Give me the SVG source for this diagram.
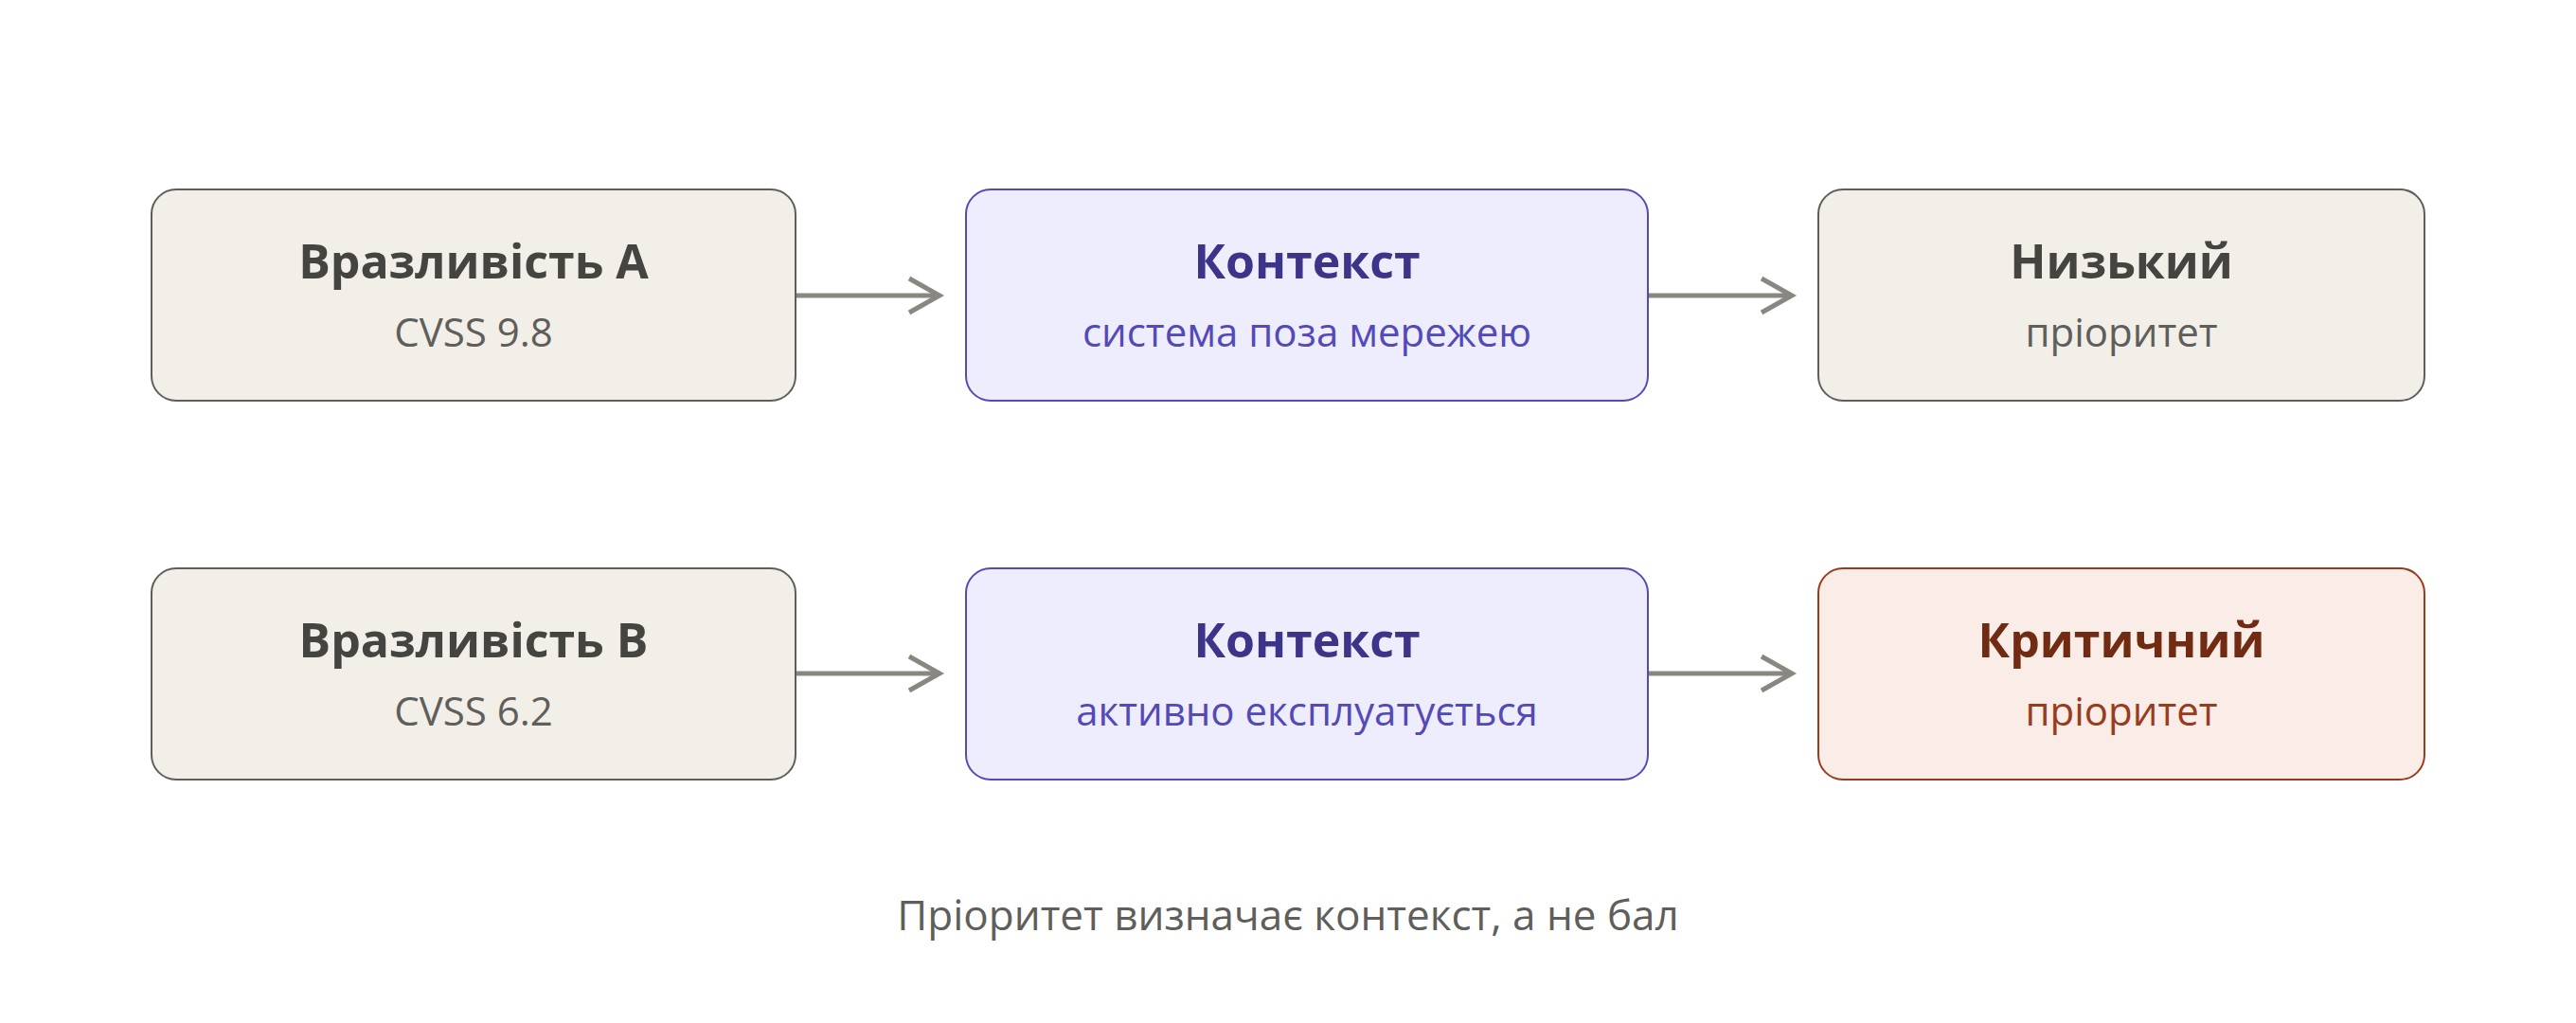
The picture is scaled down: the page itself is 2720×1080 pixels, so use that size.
<svg xmlns="http://www.w3.org/2000/svg" width="2720" height="1080" viewBox="0 0 2720 1080">
<defs>
<style>
.n{fill:#f1efe8;stroke:#5f5e5a;stroke-width:2}
.c{fill:#eeedfe;stroke:#534ab7;stroke-width:2}
.r{fill:#faece7;stroke:#993c1d;stroke-width:2}
text{font-family:"Open Sans","Noto Sans",sans-serif;text-anchor:middle}
.t{font-size:50px;font-weight:bold;fill:#444441}
.s{font-size:42px;fill:#5f5e5a}
.ct{fill:#3c3489}.cs{fill:#534ab7}
.rt{fill:#712b13}.rs{fill:#993c1d}
.e{stroke:#888780;stroke-width:5;fill:none}
</style>
<marker id="a" viewBox="0 0 10 10" refX="9" refY="5" markerWidth="6" markerHeight="6" markerUnits="userSpaceOnUse" orient="auto"><path d="M1 1L9 5L1 9" fill="none" stroke="#888780" stroke-width="1.6"/></marker>
</defs>
<rect width="2720" height="1080" fill="#fff"/>
<g id="connectors">
<path class="e" d="M840 312H990" marker-end="url(#a)" style="marker-end:none"/>
<path class="e" d="M960 294L992 312L960 330"/>
<path class="e" d="M1740 312H1890"/><path class="e" d="M1860 294L1892 312L1860 330"/>
<path class="e" d="M840 711H990"/><path class="e" d="M960 693L992 711L960 729"/>
<path class="e" d="M1740 711H1890"/><path class="e" d="M1860 693L1892 711L1860 729"/>
</g>
<g id="a1"><rect class="n" x="160" y="200" width="680" height="223" rx="26"/><text class="t" x="500" y="294">Вразливість А</text><text class="s" x="500" y="366">CVSS 9.8</text></g>
<g id="c1"><rect class="c" x="1020" y="200" width="720" height="223" rx="26"/><text class="t ct" x="1380" y="294">Контекст</text><text class="s cs" x="1380" y="366">система поза мережею</text></g>
<g id="p1"><rect class="n" x="1920" y="200" width="640" height="223" rx="26"/><text class="t" x="2240" y="294">Низький</text><text class="s" x="2240" y="366">пріоритет</text></g>
<g id="a2"><rect class="n" x="160" y="600" width="680" height="223" rx="26"/><text class="t" x="500" y="694">Вразливість B</text><text class="s" x="500" y="766">CVSS 6.2</text></g>
<g id="c2"><rect class="c" x="1020" y="600" width="720" height="223" rx="26"/><text class="t ct" x="1380" y="694">Контекст</text><text class="s cs" x="1380" y="766">активно експлуатується</text></g>
<g id="p2"><rect class="r" x="1920" y="600" width="640" height="223" rx="26"/><text class="t rt" x="2240" y="694">Критичний</text><text class="s rs" x="2240" y="766">пріоритет</text></g>
<text x="1360" y="982" font-size="44" fill="#5f5e5a">Пріоритет визначає контекст, а не бал</text>
</svg>
